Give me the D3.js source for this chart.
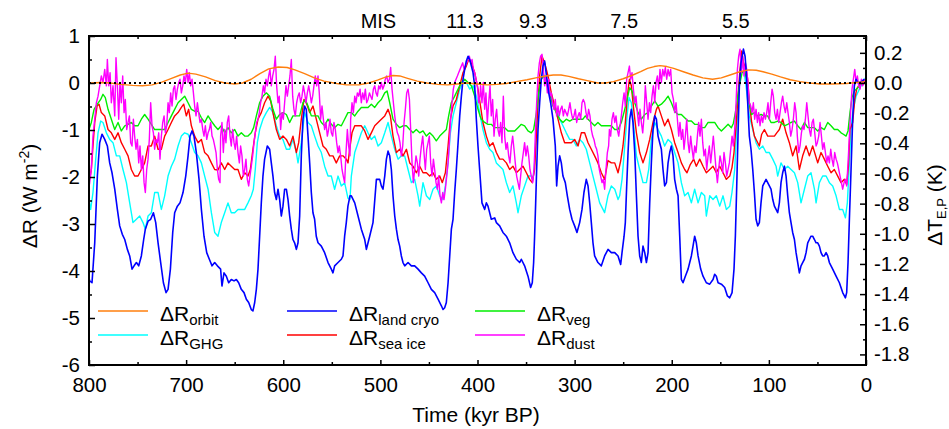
<!DOCTYPE html>
<html><head><meta charset="utf-8">
<script src="https://cdn.jsdelivr.net/npm/d3@7"></script>
<style>body{margin:0;background:#fff}svg{display:block}text{font-family:"Liberation Sans",Arial,sans-serif;fill:#000}</style>
</head><body><svg id="c" width="949" height="429"></svg>
<script>
// ---------------- data (time kyr BP, W m-2) ----------------
const xTicks=[800,700,600,500,400,300,200,100,0];
const yTicks=[1,0,-1,-2,-3,-4,-5,-6];
const rTicks=[0.2,0,-0.2,-0.4,-0.6,-0.8,-1.0,-1.2,-1.4,-1.6,-1.8];
const misLabels=["MIS","11.3","9.3","7.5","5.5"];
const misTimes=[502,413,343,249,134];
const seriesNames=["orbit","GHG","land cryo","sea ice","veg","dust"];
const sensitivity=0.3117; // K per W m-2 (right axis)

const orbit=[[800,0.0],[788,0.01],[778,0.0],[768,-0.03],[755,-0.05],[745,-0.06],[735,-0.04],[725,0.02],[715,0.1],[706,0.17],[698,0.21],[690,0.19],[680,0.13],[670,0.05],[660,0.0],[650,-0.02],[642,0.0],[633,0.08],[624,0.2],[615,0.3],[605,0.34],[596,0.33],[588,0.28],[578,0.2],[568,0.11],[558,0.04],[545,-0.01],[535,-0.04],[522,-0.04],[512,0.0],[503,0.06],[494,0.13],[487,0.16],[480,0.15],[472,0.1],[462,0.04],[452,0.0],[441,-0.03],[431,-0.04],[421,-0.02],[411,0.0],[400,-0.02],[390,-0.04],[380,-0.03],[370,-0.01],[360,0.03],[349,0.07],[340,0.11],[330,0.15],[322,0.17],[314,0.17],[306,0.14],[296,0.09],[287,0.05],[276,0.0],[268,0.0],[260,0.03],[250,0.09],[240,0.17],[232,0.24],[225,0.31],[218,0.35],[212,0.37],[205,0.35],[198,0.31],[188,0.24],[178,0.17],[168,0.11],[158,0.08],[149,0.11],[140,0.17],[130,0.24],[121,0.28],[113,0.27],[106,0.24],[97,0.19],[88,0.13],[78,0.07],[68,0.03],[58,0.0],[47,-0.02],[35,-0.02],[20,-0.01],[10,0.01],[0,0.03]];

const ghg=[[800.0,-2.48],[798.3,-2.69],[795.9,-2.33],[793.4,-1.70],[790.7,-1.06],[788.0,-0.81],[785.6,-0.84],[782.1,-1.06],[778.7,-1.20],[775.3,-1.27],[771.8,-1.55],[768.4,-1.55],[765.0,-1.84],[761.5,-2.12],[758.1,-2.55],[754.7,-2.97],[751.2,-2.90],[747.8,-2.83],[744.4,-2.97],[742.0,-3.11],[739.2,-2.83],[735.8,-2.76],[732.4,-2.33],[728.9,-2.33],[725.5,-2.69],[722.1,-2.40],[718.6,-1.98],[715.2,-1.77],[711.8,-1.62],[708.3,-1.34],[704.9,-1.13],[701.5,-1.06],[698.0,-1.09],[694.6,-1.27],[691.2,-1.48],[687.7,-1.55],[684.3,-1.70],[680.9,-1.98],[677.4,-2.26],[674.0,-2.76],[670.6,-3.18],[667.2,-3.26],[663.8,-2.97],[660.3,-2.76],[656.9,-2.55],[653.5,-2.76],[650.0,-2.76],[646.6,-2.69],[643.2,-2.69],[639.7,-2.69],[636.3,-2.55],[632.9,-2.40],[630.8,-2.26],[628.8,-1.84],[626.7,-1.27],[624.3,-0.99],[620.9,-0.77],[617.4,-0.63],[614.0,-0.52],[610.6,-0.63],[607.1,-0.91],[603.7,-1.13],[600.3,-1.20],[596.8,-1.41],[593.4,-1.41],[590.0,-1.20],[586.5,-1.48],[584.8,-1.70],[581.4,-1.27],[578.0,-0.63],[574.5,-0.84],[571.1,-0.91],[567.7,-1.13],[564.2,-1.34],[560.8,-1.48],[557.4,-1.77],[553.9,-1.98],[550.5,-1.98],[547.1,-2.26],[543.6,-1.98],[540.2,-2.19],[536.8,-2.12],[533.4,-2.45],[531.3,-2.48],[529.9,-1.98],[526.4,-1.48],[523.0,-1.27],[519.6,-1.06],[516.1,-0.91],[512.7,-1.06],[509.3,-1.20],[505.8,-1.13],[502.4,-1.34],[499.0,-1.27],[495.5,-1.06],[492.1,-0.84],[488.7,-1.13],[485.2,-1.41],[481.8,-1.62],[478.4,-1.55],[475.0,-1.55],[471.5,-1.84],[468.1,-2.12],[464.7,-2.05],[461.2,-2.40],[459.5,-2.62],[456.1,-2.12],[452.6,-2.40],[449.2,-2.48],[445.8,-2.26],[442.4,-2.19],[438.9,-2.40],[435.5,-2.48],[433.1,-2.19],[430.3,-1.70],[427.9,-1.06],[425.2,-0.70],[421.8,-0.42],[418.3,-0.13],[414.9,0.01],[411.5,0.01],[408.0,-0.13],[404.6,-0.06],[401.2,-0.28],[397.8,-0.63],[394.4,-0.99],[390.9,-1.27],[387.5,-1.41],[384.1,-1.48],[380.6,-1.70],[377.2,-1.77],[373.8,-1.84],[370.3,-2.12],[366.9,-2.33],[363.5,-2.19],[360.0,-2.55],[358.3,-2.76],[354.9,-2.40],[351.5,-2.19],[348.0,-1.98],[344.6,-1.98],[342.9,-2.05],[341.2,-1.70],[339.4,-0.99],[337.7,-0.28],[334.3,0.08],[332.6,0.22],[329.1,0.01],[325.7,-0.21],[322.3,-0.42],[318.8,-0.56],[315.4,-0.77],[312.0,-0.91],[308.6,-1.06],[305.1,-1.20],[301.7,-1.20],[298.3,-1.34],[294.8,-1.20],[291.4,-1.27],[288.0,-1.41],[284.5,-1.70],[281.1,-1.98],[277.7,-2.26],[274.2,-2.55],[270.8,-2.69],[269.1,-2.76],[265.7,-2.40],[262.2,-2.19],[258.7,-2.26],[255.3,-2.48],[253.6,-2.40],[251.2,-2.05],[248.4,-1.34],[246.0,-0.70],[244.0,-0.31],[241.6,-0.42],[239.2,-0.91],[236.4,-1.55],[233.0,-1.84],[229.6,-2.12],[226.1,-2.12],[223.7,-1.84],[221.0,-1.20],[217.5,-0.84],[214.1,-0.99],[210.7,-1.13],[207.3,-1.34],[203.8,-1.20],[200.4,-1.27],[197.0,-1.48],[193.5,-1.70],[190.1,-2.12],[186.7,-2.40],[183.2,-2.33],[179.8,-2.55],[176.4,-2.26],[172.9,-2.55],[169.5,-2.33],[166.1,-2.40],[164.4,-2.83],[160.9,-2.40],[157.5,-2.48],[154.1,-2.40],[150.6,-2.62],[147.2,-2.40],[143.8,-2.69],[140.3,-2.62],[138.0,-2.33],[135.2,-1.84],[133.5,-1.13],[131.8,-0.42],[129.7,0.15],[126.9,0.43],[123.5,-0.06],[120.1,-0.70],[116.6,-0.99],[113.2,-1.27],[109.8,-1.41],[106.3,-1.34],[102.9,-1.48],[99.5,-1.48],[96.0,-1.62],[92.6,-1.77],[90.9,-1.98],[87.5,-1.70],[84.0,-1.84],[80.6,-1.77],[77.2,-1.84],[73.7,-1.91],[70.3,-2.12],[66.9,-2.55],[63.4,-2.26],[60.0,-1.98],[56.6,-1.91],[53.1,-2.26],[51.4,-2.55],[48.0,-2.12],[44.6,-1.98],[41.1,-1.98],[37.7,-2.12],[34.3,-2.19],[30.8,-2.40],[27.4,-2.69],[24.0,-2.69],[21.2,-2.87],[19.2,-2.55],[17.1,-1.70],[15.4,-0.99],[13.7,-0.63],[10.2,-0.28],[6.8,-0.13],[3.4,0.01],[0.5,0.11]];

const landCryo=[[800,-4.15],[799.3,-4.21],[796.9,-4.25],[794.1,-3.40],[791.4,-1.98],[789.0,-1.27],[786.6,-1.09],[783.8,-1.20],[781.1,-1.34],[778.7,-1.70],[776.3,-1.91],[773.5,-2.26],[770.8,-2.69],[768.4,-3.04],[765.7,-3.22],[763.2,-3.33],[760.5,-3.54],[758.1,-3.68],[755.7,-3.96],[753.6,-3.89],[751.2,-3.82],[748.8,-3.89],[746.1,-3.68],[743.7,-3.33],[742.0,-3.11],[739.2,-2.94],[736.5,-2.90],[733.7,-2.76],[731.3,-2.97],[728.9,-3.40],[726.2,-3.82],[723.4,-4.25],[720.7,-4.46],[718.6,-4.39],[716.2,-3.96],[713.8,-3.18],[711.8,-2.76],[709.0,-2.62],[706.3,-2.55],[703.2,-2.33],[700.4,-1.98],[698.0,-1.55],[696.0,-1.13],[693.9,-1.02],[691.9,-1.13],[689.5,-1.48],[686.7,-2.05],[684.3,-2.69],[681.6,-3.26],[678.8,-3.61],[676.1,-3.75],[673.3,-3.89],[670.6,-3.82],[667.8,-3.89],[664.5,-3.96],[663.1,-4.32],[661.0,-4.04],[658.6,-4.11],[656.2,-4.25],[653.5,-4.18],[650.7,-4.21],[648.3,-4.18],[645.9,-4.25],[643.2,-4.39],[640.4,-4.46],[638.0,-4.60],[635.6,-4.67],[632.9,-4.82],[631.2,-4.85],[629.4,-4.67],[627.7,-4.39],[626.0,-3.96],[624.3,-3.26],[622.6,-2.55],[620.9,-1.98],[619.2,-1.62],[616.4,-1.34],[614.0,-1.41],[612.3,-1.70],[610.6,-1.98],[608.9,-2.33],[607.1,-2.48],[605.4,-2.26],[603.7,-2.48],[602.0,-2.83],[600.3,-2.62],[598.6,-2.26],[596.8,-2.26],[595.1,-2.48],[593.4,-2.83],[591.7,-3.11],[590.0,-3.33],[588.3,-3.40],[586.5,-3.54],[584.8,-3.40],[583.1,-2.83],[581.4,-1.55],[579.7,-0.77],[578.0,-0.49],[576.3,-0.56],[574.5,-1.13],[572.8,-1.70],[571.1,-2.33],[569.4,-2.76],[567.7,-2.90],[566.0,-3.26],[564.2,-3.40],[560.8,-3.47],[557.4,-3.61],[553.9,-3.82],[550.5,-3.96],[548.8,-4.04],[547.1,-3.89],[543.6,-3.82],[540.2,-3.75],[538.5,-3.68],[536.8,-3.26],[535.1,-2.97],[533.4,-2.62],[531.3,-2.40],[529.9,-2.40],[526.4,-2.55],[523.0,-2.83],[519.6,-3.11],[516.1,-3.33],[514.4,-3.54],[512.7,-3.40],[511.0,-3.26],[507.6,-2.97],[504.1,-2.05],[500.7,-2.05],[499.0,-2.19],[497.3,-2.26],[495.5,-1.98],[493.8,-1.62],[492.1,-1.45],[490.4,-1.55],[488.7,-1.84],[487.0,-2.40],[485.2,-2.83],[483.5,-3.11],[481.8,-3.33],[480.1,-3.47],[478.4,-3.68],[476.7,-3.82],[474.9,-3.89],[471.5,-3.82],[468.1,-3.89],[464.7,-3.89],[461.2,-3.96],[457.8,-4.04],[454.4,-4.11],[450.9,-4.25],[447.5,-4.39],[444.1,-4.46],[440.6,-4.60],[437.2,-4.74],[435.5,-4.82],[433.8,-4.78],[432.1,-4.67],[430.3,-4.25],[428.6,-3.68],[426.9,-3.11],[425.2,-2.90],[423.5,-2.33],[421.8,-1.84],[420.0,-1.27],[418.3,-0.70],[416.6,-0.28],[414.9,0.08],[413.2,0.29],[411.5,0.47],[409.7,0.57],[408.0,0.50],[406.3,0.36],[404.6,0.22],[402.9,-0.06],[401.2,-0.77],[399.5,-1.34],[397.8,-1.84],[395.4,-2.55],[392.6,-2.69],[390.9,-2.55],[389.2,-2.62],[385.8,-2.90],[382.3,-2.87],[380.6,-2.97],[377.2,-3.04],[373.8,-3.18],[370.3,-3.26],[366.9,-3.40],[363.5,-3.61],[360.0,-3.75],[356.6,-3.82],[354.9,-3.75],[351.5,-3.89],[348.0,-4.11],[345.3,-4.35],[343.6,-4.25],[342.2,-3.82],[341.2,-3.26],[340.1,-2.55],[339.1,-1.84],[337.7,-0.99],[336.0,-0.42],[334.3,0.08],[332.6,0.36],[330.9,0.47],[329.8,0.29],[328.5,0.08],[326.7,-0.21],[324.7,-0.42],[322.3,-0.77],[319.9,-1.34],[318.5,-2.19],[317.1,-1.77],[315.4,-1.55],[313.7,-1.70],[312.0,-1.98],[309.6,-2.12],[307.5,-2.40],[305.1,-2.69],[302.7,-2.90],[300.0,-3.04],[297.6,-3.18],[294.8,-2.97],[292.4,-2.69],[290.4,-2.33],[288.0,-2.05],[286.2,-2.19],[284.5,-2.55],[282.8,-2.97],[281.1,-3.40],[279.4,-3.68],[276.0,-3.82],[272.5,-3.89],[269.1,-3.68],[265.6,-3.54],[262.2,-3.61],[258.7,-3.61],[255.3,-3.68],[252.6,-3.86],[251.2,-3.61],[249.1,-3.26],[247.8,-2.97],[246.4,-2.19],[245.0,-1.48],[243.3,-0.77],[241.6,-0.56],[239.9,-0.84],[238.1,-1.48],[236.4,-2.40],[234.7,-3.26],[233.0,-3.68],[231.3,-3.82],[229.6,-3.47],[227.8,-3.61],[226.1,-3.82],[224.4,-3.61],[222.7,-2.55],[221.0,-1.70],[219.3,-0.99],[217.5,-0.70],[215.8,-0.77],[214.1,-1.13],[212.4,-1.27],[210.7,-1.41],[209.0,-1.84],[207.3,-2.19],[205.5,-2.12],[203.8,-1.70],[202.1,-1.48],[200.4,-1.34],[198.7,-1.55],[197.0,-2.05],[195.2,-2.26],[193.5,-2.40],[191.8,-3.26],[190.1,-4.18],[188.4,-4.25],[186.0,-4.11],[183.2,-3.96],[181.5,-3.82],[179.8,-3.68],[178.1,-3.47],[176.4,-3.26],[174.7,-3.40],[172.9,-3.68],[170.2,-3.96],[167.8,-4.11],[164.4,-4.25],[160.9,-4.28],[157.5,-4.18],[155.8,-4.07],[154.1,-4.11],[152.3,-4.25],[148.9,-4.28],[145.5,-4.35],[142.7,-4.53],[140.3,-4.57],[137.9,-4.46],[135.9,-3.96],[134.5,-3.26],[133.1,-2.19],[131.8,-1.13],[130.4,-0.06],[128.7,0.43],[126.2,0.72],[124.5,0.57],[123.5,0.29],[121.8,-0.42],[120.1,-1.13],[118.4,-1.41],[116.6,-1.84],[114.9,-2.33],[113.2,-2.90],[111.5,-3.04],[109.8,-2.97],[108.1,-2.55],[106.3,-2.19],[104.6,-2.12],[102.9,-2.05],[101.2,-2.12],[99.5,-2.19],[97.8,-2.26],[96.0,-2.48],[94.3,-2.62],[92.6,-2.69],[90.9,-2.76],[89.2,-2.55],[87.5,-2.12],[85.8,-1.91],[84.0,-1.77],[82.3,-1.98],[80.6,-2.40],[78.9,-2.76],[77.2,-2.97],[75.5,-3.18],[73.7,-3.33],[72.0,-3.61],[70.3,-3.82],[68.6,-4.04],[66.9,-3.89],[65.2,-3.82],[63.4,-3.75],[61.7,-3.61],[60.0,-3.40],[58.3,-3.33],[56.6,-3.26],[54.9,-3.26],[53.1,-3.33],[51.4,-3.40],[49.7,-3.40],[48.0,-3.47],[46.3,-3.61],[44.6,-3.68],[42.9,-3.68],[41.1,-3.61],[39.4,-3.68],[37.7,-3.82],[34.3,-3.96],[30.8,-4.11],[27.4,-4.25],[24.0,-4.46],[21.2,-4.57],[19.9,-4.46],[18.5,-3.82],[17.1,-2.90],[15.4,-1.84],[13.7,-0.77],[12.0,-0.06],[10.2,0.08],[8.5,0.01],[6.8,0.01],[4.1,0.04],[1.7,0.08]];

const seaIce=[[799.3,-2.05],[797.6,-1.84],[795.9,-1.34],[794.1,-0.84],[791.7,-0.49],[789.7,-0.45],[787.3,-0.63],[783.8,-0.70],[780.4,-0.99],[777.0,-1.06],[773.5,-1.20],[770.1,-1.06],[766.7,-1.27],[763.2,-1.41],[759.8,-1.55],[756.4,-1.84],[753.0,-1.98],[749.5,-1.98],[746.1,-1.84],[742.7,-1.70],[739.2,-1.34],[735.8,-1.34],[732.4,-1.13],[728.9,-1.41],[725.5,-1.41],[722.1,-1.13],[718.6,-0.99],[715.2,-0.84],[711.8,-0.70],[708.3,-0.63],[704.9,-0.52],[702.5,-0.45],[699.8,-0.70],[697.4,-0.56],[694.6,-0.91],[691.2,-1.13],[687.7,-1.27],[684.3,-1.20],[680.9,-1.48],[677.4,-1.55],[674.0,-1.70],[670.6,-1.84],[667.2,-1.85],[663.8,-1.70],[660.3,-1.84],[656.9,-1.70],[653.5,-1.77],[650.0,-1.84],[646.6,-1.84],[643.2,-2.05],[639.7,-1.91],[636.3,-1.98],[633.9,-1.84],[631.2,-1.41],[628.8,-1.06],[626.0,-0.77],[622.6,-0.63],[619.2,-0.42],[615.7,-0.28],[613.0,-0.38],[610.6,-0.63],[607.1,-0.99],[603.7,-1.20],[600.3,-1.13],[596.8,-1.20],[593.4,-1.34],[590.0,-1.13],[586.5,-1.48],[584.1,-1.27],[581.4,-0.77],[578.7,-0.35],[576.3,-0.42],[572.8,-0.63],[569.4,-0.49],[566.0,-0.77],[562.5,-1.06],[559.1,-1.34],[555.7,-1.41],[552.2,-1.55],[548.8,-1.55],[545.4,-1.70],[541.9,-1.55],[538.5,-1.55],[535.1,-1.62],[533.3,-1.70],[531.6,-1.41],[529.2,-1.06],[526.4,-0.91],[523.0,-0.91],[519.6,-0.91],[516.1,-1.02],[512.7,-1.20],[509.3,-1.06],[505.8,-0.91],[502.4,-0.84],[499.0,-0.77],[495.5,-0.70],[492.1,-0.56],[489.7,-0.70],[487.0,-1.13],[483.5,-1.48],[480.1,-1.41],[476.7,-1.55],[473.2,-1.41],[469.8,-1.70],[466.4,-1.77],[463.0,-1.91],[459.5,-1.77],[456.1,-1.91],[452.6,-1.91],[449.2,-1.98],[445.8,-1.91],[442.4,-2.05],[438.9,-1.98],[436.2,-2.12],[433.1,-1.91],[430.3,-1.34],[427.9,-0.77],[425.2,-0.49],[421.8,-0.35],[418.3,-0.06],[414.9,0.22],[411.5,0.36],[409.1,0.50],[406.3,0.43],[402.9,0.22],[399.5,-0.13],[397.4,-0.42],[394.4,-0.84],[390.9,-1.13],[387.5,-1.34],[384.1,-1.27],[380.6,-1.48],[377.2,-1.62],[373.8,-1.62],[370.3,-1.70],[366.9,-1.84],[363.5,-1.77],[360.0,-1.91],[356.6,-1.84],[353.2,-1.77],[349.7,-1.91],[346.3,-2.05],[343.6,-2.12],[341.2,-1.84],[339.4,-1.13],[337.7,-0.42],[336.0,0.15],[333.6,0.57],[330.9,0.43],[327.4,0.15],[324.0,-0.21],[320.6,-0.49],[317.1,-0.77],[313.7,-1.06],[310.3,-1.27],[306.8,-1.27],[303.4,-1.27],[300.0,-1.20],[296.5,-1.34],[293.1,-1.06],[289.7,-1.06],[286.2,-1.27],[282.8,-1.41],[279.4,-1.55],[276.0,-1.70],[272.5,-1.91],[269.1,-2.05],[265.7,-1.65],[262.2,-1.70],[258.7,-1.70],[255.3,-1.91],[252.6,-1.66],[250.2,-1.34],[247.8,-0.84],[245.7,-0.28],[243.6,0.08],[241.6,-0.06],[239.2,-0.56],[236.4,-1.06],[233.0,-1.48],[229.6,-1.70],[226.1,-1.48],[222.7,-1.20],[219.3,-0.84],[215.8,-0.56],[214.1,-0.49],[210.7,-0.70],[207.3,-0.91],[203.8,-0.77],[200.4,-0.99],[197.0,-1.27],[193.5,-1.48],[190.1,-1.70],[186.7,-1.84],[184.3,-1.91],[180.8,-1.73],[177.4,-1.62],[174.7,-1.77],[171.2,-1.62],[167.8,-1.77],[164.4,-1.91],[160.9,-1.84],[157.5,-1.77],[154.1,-1.91],[150.6,-1.77],[147.2,-1.91],[143.8,-2.05],[140.3,-1.98],[138.0,-1.80],[135.9,-1.48],[133.5,-0.84],[131.8,-0.28],[129.7,0.29],[128.0,0.68],[126.2,0.43],[123.5,0.29],[121.8,0.08],[120.1,-0.42],[117.7,-0.84],[114.9,-1.13],[112.5,-1.23],[109.8,-1.34],[107.4,-1.09],[104.6,-0.99],[101.2,-1.13],[97.8,-1.13],[94.3,-1.13],[91.9,-1.06],[89.2,-0.99],[85.8,-0.77],[82.3,-1.06],[78.9,-1.27],[75.5,-1.55],[72.0,-1.34],[68.6,-1.84],[65.2,-1.55],[61.7,-1.34],[58.3,-1.55],[54.9,-1.34],[49.7,-1.70],[46.3,-1.48],[42.9,-1.62],[39.4,-1.77],[36.0,-1.91],[32.6,-1.84],[29.1,-1.98],[25.7,-2.12],[22.3,-2.05],[19.9,-2.16],[18.1,-1.77],[16.5,-0.99],[13.7,-0.84],[11.6,-0.35],[9.6,-0.13],[6.8,-0.03],[3.4,0.01],[0.5,0.08]];

const veg=[[800.0,-0.99],[797.6,-0.84],[794.8,-0.56],[791.4,-0.45],[788.0,-0.35],[785.6,-0.24],[783.2,-0.31],[780.4,-0.56],[777.0,-0.77],[773.5,-0.99],[770.1,-0.84],[766.7,-1.02],[763.2,-0.91],[759.8,-0.88],[756.4,-0.84],[753.0,-0.91],[749.5,-0.91],[746.1,-0.77],[742.7,-0.67],[739.2,-0.77],[735.8,-0.88],[732.4,-0.99],[728.9,-0.99],[725.5,-0.99],[722.1,-0.99],[718.6,-0.84],[715.2,-0.70],[711.8,-0.56],[708.3,-0.42],[704.9,-0.35],[701.5,-0.28],[698.0,-0.42],[694.6,-0.56],[691.2,-0.60],[687.7,-0.60],[684.3,-0.74],[680.9,-0.84],[677.4,-0.70],[674.0,-0.81],[670.6,-0.91],[667.2,-0.99],[663.8,-0.91],[660.3,-1.06],[656.9,-0.95],[653.5,-1.06],[650.0,-0.99],[646.6,-1.13],[643.2,-1.06],[639.7,-1.13],[636.3,-1.13],[632.9,-1.06],[630.5,-0.95],[627.7,-0.70],[624.3,-0.42],[620.9,-0.28],[617.4,-0.21],[614.0,-0.28],[610.6,-0.56],[607.1,-0.77],[603.7,-0.67],[600.3,-0.63],[596.8,-0.67],[593.4,-0.84],[590.0,-0.70],[586.5,-0.70],[583.1,-0.70],[579.7,-0.42],[577.3,-0.35],[574.5,-0.49],[571.1,-0.70],[567.7,-0.70],[564.2,-0.70],[560.8,-0.84],[557.4,-0.91],[553.9,-0.77],[550.5,-0.88],[547.1,-0.95],[543.6,-0.88],[540.2,-0.91],[536.8,-0.77],[533.4,-0.63],[529.9,-0.63],[526.4,-0.70],[523.0,-0.60],[519.6,-0.52],[516.1,-0.52],[512.7,-0.52],[509.3,-0.45],[505.8,-0.52],[502.4,-0.42],[499.0,-0.35],[495.5,-0.21],[493.1,-0.17],[490.4,-0.42],[487.0,-0.77],[483.5,-0.88],[480.1,-0.95],[476.7,-0.91],[473.2,-0.91],[469.8,-0.99],[466.4,-1.06],[463.0,-0.99],[459.5,-1.06],[456.1,-1.02],[452.6,-1.13],[449.2,-1.06],[445.8,-1.13],[442.4,-1.23],[438.9,-1.13],[435.5,-1.06],[432.1,-0.99],[429.7,-0.70],[427.0,-0.42],[423.5,-0.28],[420.0,-0.13],[416.6,0.01],[413.2,0.08],[409.7,0.01],[406.3,-0.06],[402.9,-0.28],[399.5,-0.56],[397.4,-0.70],[396.1,-0.77],[392.6,-0.84],[389.2,-0.88],[385.8,-0.88],[382.3,-0.95],[378.9,-0.95],[375.5,-0.95],[372.0,-0.95],[368.6,-1.02],[365.2,-1.02],[361.7,-1.02],[358.3,-0.95],[354.9,-0.88],[351.5,-0.91],[348.0,-1.02],[344.6,-1.06],[342.2,-0.99],[339.4,-0.63],[337.0,-0.21],[334.3,0.08],[331.9,0.15],[329.1,0.08],[325.7,-0.21],[322.3,-0.49],[318.8,-0.63],[315.4,-0.77],[312.0,-0.84],[308.6,-0.77],[305.1,-0.81],[301.7,-0.77],[298.3,-0.77],[294.8,-0.77],[291.4,-0.77],[289.0,-0.70],[286.2,-0.77],[282.8,-0.84],[279.4,-0.91],[276.0,-0.84],[272.5,-0.91],[269.1,-0.91],[265.7,-0.91],[262.2,-0.91],[258.7,-0.99],[255.3,-0.99],[251.9,-0.84],[248.4,-0.56],[246.0,-0.35],[243.3,-0.10],[240.9,-0.17],[238.1,-0.42],[234.7,-0.63],[231.3,-0.77],[227.8,-0.67],[224.4,-0.63],[221.0,-0.49],[217.5,-0.38],[214.1,-0.49],[210.7,-0.45],[207.3,-0.38],[203.8,-0.28],[200.4,-0.42],[197.0,-0.60],[193.5,-0.67],[190.1,-0.67],[186.7,-0.74],[183.2,-0.81],[179.8,-0.81],[176.4,-0.88],[172.9,-0.88],[169.5,-0.95],[166.1,-0.95],[162.6,-0.84],[159.2,-0.84],[155.8,-0.84],[152.3,-0.95],[148.9,-1.02],[145.5,-0.95],[142.0,-0.88],[138.6,-0.95],[136.6,-0.86],[134.5,-0.63],[132.4,-0.35],[130.4,-0.06],[127.6,0.22],[125.2,0.26],[122.8,0.08],[120.1,-0.42],[117.7,-0.67],[114.9,-0.63],[111.5,-0.70],[108.1,-0.67],[104.6,-0.70],[101.2,-0.70],[97.8,-0.84],[94.3,-0.84],[90.9,-0.81],[87.5,-0.84],[84.0,-0.91],[80.6,-0.88],[77.2,-0.84],[73.7,-0.81],[70.3,-0.91],[66.9,-0.99],[63.4,-0.84],[60.0,-0.95],[56.6,-0.95],[53.1,-0.95],[49.7,-1.02],[46.3,-0.95],[42.9,-0.99],[39.4,-0.84],[36.0,-0.91],[32.6,-0.99],[29.1,-0.99],[25.7,-1.06],[23.3,-1.09],[20.5,-1.13],[18.5,-1.02],[16.5,-0.63],[14.4,-0.31],[12.0,-0.17],[8.5,-0.10],[5.1,-0.03],[0.5,0.01]];

const dust=[[800,0.0],[799.5,-2.15],[797.6,-1.84],[795.9,-1.13],[794.1,-0.77],[792.4,-0.42],[790.7,-0.28],[789.0,-0.06],[787.3,0.15],[785.6,0.01],[783.8,0.29],[782.1,-0.06],[781.1,0.50],[779.7,-0.06],[778.3,0.22],[777.0,-0.42],[775.3,-0.06],[773.5,-0.70],[772.2,0.54],[770.8,-0.06],[769.4,-0.77],[768.1,0.01],[766.7,-0.42],[765.3,0.15],[763.9,-0.63],[762.6,-0.35],[761.2,-0.99],[759.8,-0.84],[758.4,-0.70],[757.1,-1.27],[755.7,-1.34],[754.3,-0.77],[753.0,-1.13],[751.6,-1.41],[750.2,-1.20],[748.8,-1.70],[747.5,-1.34],[746.1,-1.84],[744.7,-1.55],[743.3,-2.12],[742.0,-2.33],[740.6,-1.84],[739.2,-1.62],[737.9,-1.20],[736.5,-0.42],[735.1,-0.91],[733.7,-1.06],[732.4,-1.41],[731.0,-1.20],[729.6,-1.27],[728.2,-1.06],[726.9,-1.62],[725.5,-1.13],[724.1,-0.84],[722.7,-0.70],[721.4,-1.06],[720.0,-0.91],[718.6,-0.42],[717.3,-0.63],[715.9,-0.21],[714.5,-0.49],[713.1,-0.13],[711.8,-0.06],[710.4,-0.35],[709.0,-0.13],[707.6,0.01],[706.3,0.08],[704.9,-0.21],[703.5,-0.06],[702.2,0.15],[700.8,0.01],[699.4,0.29],[698.0,0.01],[696.7,0.22],[695.3,-0.06],[693.9,0.08],[692.5,-0.21],[691.2,-0.49],[689.8,-0.70],[688.4,-0.42],[687.1,-0.63],[685.7,-0.84],[684.3,-0.77],[682.9,-0.99],[681.6,-1.13],[680.2,-0.91],[678.8,-1.20],[677.4,-1.06],[676.1,-0.99],[674.7,-0.84],[673.3,-1.13],[672.0,-1.20],[670.6,-1.34],[669.2,-1.48],[667.8,-1.84],[666.5,-2.05],[665.1,-2.12],[664.5,-1.13],[663.1,-0.84],[661.7,-1.48],[660.3,-0.99],[659.0,-1.27],[657.6,-0.84],[656.2,-0.70],[654.8,-1.13],[653.5,-1.34],[652.1,-0.99],[650.7,-1.27],[649.4,-1.41],[648.0,-1.13],[646.6,-1.48],[645.2,-1.70],[643.9,-1.34],[642.5,-1.55],[641.1,-1.98],[639.7,-1.84],[638.4,-1.62],[637.0,-2.05],[635.6,-2.19],[634.3,-1.98],[632.9,-1.77],[631.5,-1.55],[630.1,-1.27],[628.8,-1.06],[627.4,-0.84],[626.0,-0.77],[624.6,-0.63],[623.3,-0.42],[621.9,-0.28],[620.5,-0.06],[619.2,-0.21],[617.8,0.08],[616.4,-0.06],[615.0,0.15],[613.7,0.29],[612.3,-0.06],[610.9,0.15],[609.5,0.29],[608.2,0.57],[606.8,-0.06],[605.4,-0.42],[604.1,-0.28],[602.7,-0.99],[601.3,-0.63],[599.9,-0.77],[598.6,-0.42],[597.2,-0.06],[595.8,-0.28],[594.4,-0.06],[593.1,0.15],[591.7,0.50],[590.3,-0.28],[589.0,-0.56],[587.6,-0.70],[586.2,-0.42],[584.8,-0.28],[583.5,-0.21],[582.1,-0.42],[580.7,-0.28],[579.3,-0.06],[578.0,-0.21],[576.6,-0.42],[575.2,-0.21],[573.8,-0.06],[572.5,-0.21],[571.1,-0.42],[569.7,-0.28],[568.4,-0.06],[567.0,0.15],[565.6,-0.06],[564.2,0.15],[562.9,-0.21],[561.5,-0.77],[560.1,-0.49],[558.7,-0.77],[557.4,-0.99],[556.0,-0.84],[554.6,-1.13],[553.3,-0.99],[551.9,-0.77],[550.5,-1.06],[549.1,-1.13],[547.8,-0.84],[546.4,-0.99],[545.0,-1.27],[543.6,-1.48],[542.3,-1.34],[540.9,-1.55],[539.5,-1.84],[538.2,-1.98],[536.8,-2.12],[535.4,-1.48],[534.0,-0.99],[532.7,-1.34],[531.3,-1.55],[530.6,-0.77],[529.2,-0.42],[527.8,-0.63],[526.4,-0.28],[525.1,-0.42],[523.7,-0.21],[522.3,-0.28],[520.9,-0.13],[519.6,-0.42],[518.2,-0.21],[516.8,-0.35],[515.5,-0.13],[514.1,-0.42],[512.7,-0.35],[511.3,-0.21],[510.0,-0.28],[508.6,-0.35],[507.2,-0.13],[505.8,-0.06],[504.5,-0.21],[503.1,-0.28],[501.7,-0.06],[500.4,-0.13],[499.0,0.01],[497.6,-0.13],[496.2,-0.06],[494.9,0.08],[493.5,0.15],[492.1,0.01],[490.7,0.08],[489.4,0.33],[488.0,-0.13],[486.6,-0.42],[485.2,-0.70],[483.9,-0.91],[482.5,-1.06],[481.1,-1.13],[479.8,-1.27],[478.4,-1.55],[477.0,-1.34],[475.6,-0.84],[474.3,-0.56],[472.9,-0.21],[471.5,-0.13],[470.1,-0.35],[468.8,-0.99],[467.4,-1.70],[466.0,-2.12],[464.7,-1.84],[463.3,-1.55],[461.9,-1.70],[460.5,-1.98],[459.2,-1.62],[457.8,-1.34],[456.4,-1.13],[455.1,-1.48],[453.7,-1.84],[452.3,-1.41],[450.9,-1.27],[449.6,-1.13],[448.2,-1.70],[446.8,-1.98],[445.4,-1.62],[444.1,-1.84],[442.7,-2.12],[441.3,-2.26],[440.0,-1.98],[438.6,-2.40],[437.2,-2.55],[435.8,-2.33],[434.5,-2.48],[433.1,-2.26],[431.7,-1.98],[430.3,-1.70],[429.0,-1.27],[427.6,-0.77],[426.2,-0.42],[424.9,-0.13],[423.5,0.01],[422.1,0.08],[420.7,0.15],[419.4,0.22],[418.0,0.29],[416.6,0.36],[415.2,0.43],[413.9,0.29],[412.5,0.36],[411.1,0.43],[409.7,0.50],[408.4,0.57],[407.0,0.43],[405.6,0.50],[404.3,0.29],[402.9,0.22],[401.5,0.08],[400.1,-0.06],[398.8,-0.42],[397.4,-0.28],[396.8,-0.06],[395.4,-0.42],[394.0,0.01],[392.6,-0.56],[391.3,-0.21],[389.9,-0.84],[388.5,-0.42],[387.1,-0.06],[385.8,-0.70],[384.4,-0.35],[383.0,-1.13],[381.7,-0.77],[380.3,-0.56],[378.9,-0.99],[377.5,-1.13],[376.2,-0.84],[374.8,-1.27],[373.4,-0.28],[372.0,-1.13],[370.7,-1.41],[369.3,-1.27],[367.9,-1.55],[366.6,-1.70],[365.2,-1.34],[363.8,-1.13],[362.4,-1.41],[361.1,-1.70],[359.7,-1.98],[358.3,-2.12],[356.9,-2.26],[355.6,-1.98],[354.2,-1.70],[352.8,-1.48],[351.5,-1.27],[350.1,-1.55],[348.7,-1.34],[347.3,-1.55],[346.0,-1.84],[344.6,-1.98],[343.2,-2.12],[341.8,-1.84],[340.5,-1.13],[339.1,-0.42],[337.7,0.15],[336.3,0.43],[335.0,0.57],[333.6,0.61],[332.2,0.29],[330.9,-0.06],[329.5,0.15],[328.1,-0.21],[326.7,0.08],[325.4,-0.28],[324.0,-0.21],[322.6,-0.42],[321.3,-0.56],[319.9,-0.35],[318.5,-0.70],[317.1,-0.49],[315.8,-0.70],[314.4,-0.56],[313.0,-0.49],[311.6,-0.70],[310.3,-0.56],[308.9,-0.63],[307.5,-0.70],[306.1,-0.56],[304.8,-0.42],[303.4,-0.63],[302.0,-0.77],[300.7,-0.70],[299.3,-0.56],[297.9,-0.84],[296.5,-0.70],[295.2,-0.63],[293.8,-0.77],[292.4,-0.42],[291.1,-0.35],[289.7,-0.42],[288.3,-0.63],[286.9,-0.77],[285.6,-0.56],[284.2,-0.70],[282.8,-0.99],[281.4,-1.13],[280.1,-1.20],[278.7,-1.34],[277.3,-1.41],[276.0,-1.55],[274.6,-1.84],[273.2,-1.98],[271.8,-2.12],[270.5,-2.05],[269.1,-2.26],[267.7,-1.84],[266.3,-1.48],[265.0,-1.34],[264.2,-0.99],[262.9,-1.13],[261.5,-0.77],[260.1,-0.63],[258.7,-0.84],[257.4,-0.70],[256.0,-0.99],[254.6,-1.13],[253.2,-0.91],[251.9,-0.70],[250.5,-0.42],[249.1,-0.21],[247.8,-0.49],[246.4,0.08],[245.0,0.22],[243.6,0.36],[242.3,0.08],[240.9,0.22],[239.5,-0.13],[238.1,-0.42],[236.8,-0.28],[235.4,-0.63],[234.0,-0.91],[232.7,-0.56],[231.3,-0.84],[229.9,-1.06],[228.5,-0.70],[227.2,-0.06],[225.8,-0.42],[224.4,-0.77],[223.0,-0.42],[221.7,-0.63],[220.3,-0.28],[218.9,-0.06],[217.5,-0.42],[216.2,0.01],[214.8,0.15],[213.4,-0.13],[212.1,0.29],[210.7,0.01],[209.3,0.29],[207.9,0.15],[206.6,0.33],[205.2,0.08],[203.8,0.29],[202.5,0.15],[201.1,0.29],[199.7,-0.21],[198.3,-0.35],[197.0,-0.63],[195.6,-0.42],[194.2,-0.77],[192.8,-1.13],[191.5,-0.84],[190.1,-1.20],[188.7,-0.99],[187.4,-1.41],[186.0,-1.13],[184.6,-0.77],[183.2,-1.27],[181.9,-1.48],[180.5,-1.13],[179.1,-1.41],[177.7,-1.62],[176.4,-1.34],[175.0,-1.48],[173.6,-1.13],[172.3,-0.84],[170.9,-1.13],[169.5,-0.77],[168.1,-1.27],[166.8,-1.55],[165.4,-1.41],[164.0,-1.84],[162.6,-1.55],[161.3,-1.34],[159.9,-1.70],[158.5,-1.41],[157.2,-1.13],[155.8,-1.48],[154.4,-1.84],[153.0,-2.12],[151.7,-1.84],[150.3,-1.55],[148.9,-1.70],[147.5,-1.91],[146.2,-1.48],[144.8,-1.70],[143.4,-1.98],[142.0,-1.84],[140.7,-1.70],[139.3,-1.41],[137.9,-1.13],[136.6,-1.34],[135.2,-0.99],[133.8,-0.42],[132.4,0.29],[131.1,0.57],[129.7,0.72],[128.3,0.22],[126.9,0.57],[125.6,0.15],[124.2,0.43],[122.8,0.29],[121.4,-0.06],[120.1,-0.42],[118.7,-0.49],[117.3,-0.63],[116.0,-0.42],[114.6,-0.77],[113.2,-0.56],[111.8,-0.84],[110.5,-0.63],[109.1,-0.91],[107.7,-0.70],[106.3,-0.84],[105.0,-0.63],[103.6,-0.77],[102.2,-0.63],[100.9,-0.42],[99.5,-0.77],[98.1,-0.42],[96.7,-0.13],[95.4,-0.28],[94.0,-0.63],[92.6,-0.77],[91.2,-0.56],[89.9,-0.84],[88.5,-0.63],[87.1,-0.42],[85.8,-0.28],[84.4,-0.49],[83.0,-0.63],[81.6,-0.42],[80.3,-0.63],[78.9,-0.84],[77.5,-1.13],[76.1,-0.99],[74.8,-0.77],[73.4,-0.42],[72.0,-0.63],[70.7,-1.13],[69.3,-1.48],[67.9,-1.34],[66.5,-1.06],[65.2,-0.91],[63.8,-0.99],[62.4,-0.77],[61.0,-0.42],[59.7,-0.70],[58.3,-0.99],[56.9,-1.13],[55.5,-0.84],[54.2,-0.77],[52.8,-1.06],[51.4,-1.34],[50.1,-1.27],[48.7,-1.13],[47.3,-0.84],[45.9,-1.13],[44.6,-1.41],[43.2,-1.27],[41.8,-1.48],[40.4,-1.70],[39.1,-1.55],[37.7,-1.70],[36.3,-1.41],[35.0,-1.62],[33.6,-1.77],[32.2,-1.48],[30.8,-1.62],[29.5,-1.70],[28.1,-1.84],[26.7,-1.98],[25.3,-2.12],[24.0,-2.26],[22.6,-2.12],[21.2,-2.05],[19.9,-2.19],[18.5,-1.70],[17.1,-1.13],[15.7,-0.56],[14.4,-0.13],[13.0,0.08],[11.6,0.29],[10.2,0.01],[8.9,0.15],[7.5,-0.06],[6.1,-0.13],[4.8,0.08],[3.4,-0.06],[2.0,0.01],[0.6,0.08]];

// ---------------- drawing ----------------
const svg=d3.select("#c");
const L=89,R=866,T=36,B=365;
const x=d3.scaleLinear().domain([800,0]).range([L,R]);
const y=d3.scaleLinear().domain([-6,1]).range([B,T]);
const yR=d3.scaleLinear().domain([-6*sensitivity,1*sensitivity]).range([B,T]);

svg.append("defs").append("clipPath").attr("id","pc").append("rect")
  .attr("x",L).attr("y",T).attr("width",R-L).attr("height",B-T);

const line=d3.line().x(d=>x(d[0])).y(d=>y(d[1]));
const colors={orbit:"#ff7f0e",GHG:"#00ffff","land cryo":"#0000ff","sea ice":"#ff0000",veg:"#00ee00",dust:"#ff00ff"};
const dataBy={orbit:orbit,GHG:ghg,"land cryo":landCryo,"sea ice":seaIce,veg:veg,dust:dust};
const drawOrder=["GHG","sea ice","veg","dust","land cryo","orbit"];
const g=svg.append("g").attr("clip-path","url(#pc)");
drawOrder.forEach(k=>{
  g.append("path").datum(dataBy[k]).attr("d",line).attr("fill","none")
   .attr("stroke",colors[k]).attr("stroke-width",k==="land cryo"?1.6:1.4)
   .attr("stroke-linejoin","round");
});
// dotted zero line
g.append("line").attr("x1",L).attr("x2",R).attr("y1",y(0)).attr("y2",y(0))
 .attr("stroke","#000").attr("stroke-width",2).attr("stroke-dasharray","2,3");

// axes
const fs="20.5px";
function styleAxis(sel){sel.select(".domain").remove();sel.selectAll("line").attr("stroke","#000").attr("stroke-width",1.5);sel.selectAll("text").style("font-size",fs).attr("fill","#000");}
svg.append("g").attr("transform",`translate(${L},0)`)
  .call(d3.axisLeft(y).tickValues(yTicks).tickSize(-6).tickPadding(9).tickFormat(d=>String(d))).call(styleAxis);
svg.append("g").attr("transform",`translate(${L},0)`)
  .call(d3.axisLeft(y).tickValues(d3.range(-55,10,10).map(v=>v/10)).tickSize(-3).tickFormat("")).call(styleAxis);
svg.append("g").attr("transform",`translate(0,${B})`)
  .call(d3.axisBottom(x).tickValues(xTicks).tickSize(-5).tickPadding(12)).call(styleAxis);
svg.append("g").attr("transform",`translate(0,${B})`)
  .call(d3.axisBottom(x).tickValues(d3.range(750,0,-100)).tickSize(-3).tickFormat("")).call(styleAxis);
svg.append("g").attr("transform",`translate(0,${T})`)
  .call(d3.axisTop(x).tickValues(xTicks).tickSize(-5).tickFormat("")).call(styleAxis);
svg.append("g").attr("transform",`translate(0,${T})`)
  .call(d3.axisTop(x).tickValues(d3.range(750,0,-100)).tickSize(-3).tickFormat("")).call(styleAxis);
svg.append("g").attr("transform",`translate(${R},0)`)
  .call(d3.axisRight(yR).tickValues(rTicks).tickSize(-6).tickPadding(8).tickFormat(d=>d.toFixed(1))).call(styleAxis);
svg.append("g").attr("transform",`translate(${R},0)`)
  .call(d3.axisRight(yR).tickValues(d3.range(3,-19,-2).map(v=>v/10)).tickSize(-3).tickFormat("")).call(styleAxis);

// frame
svg.append("rect").attr("x",L).attr("y",T).attr("width",R-L).attr("height",B-T)
  .attr("fill","none").attr("stroke","#000").attr("stroke-width",2);

// MIS labels
svg.selectAll("text.mis").data(misLabels).enter().append("text").attr("class","mis")
  .attr("x",(d,i)=>x(misTimes[i])).attr("y",28).attr("text-anchor","middle")
  .style("font-size","20px").text(d=>d);

// axis titles
svg.append("text").attr("x",476).attr("y",422).attr("text-anchor","middle")
  .style("font-size","21px").text("Time (kyr BP)");
const lt=svg.append("text").attr("transform","translate(37,196) rotate(-90)")
  .attr("text-anchor","middle").style("font-size","21px");
lt.append("tspan").text("\u0394R (W m");
lt.append("tspan").attr("dy",-8).style("font-size","14px").text("-2");
lt.append("tspan").attr("dy",8).text(")");
const rt=svg.append("text").attr("transform","translate(942,205) rotate(-90)")
  .attr("text-anchor","middle").style("font-size","21px");
rt.append("tspan").text("\u0394T");
rt.append("tspan").attr("dy",4).style("font-size","13px").text("E,P");
rt.append("tspan").attr("dy",-4).text(" (K)");

// legend
const legX=[98,287,475], legY=[311,335];
const legOrder=["orbit","GHG","land cryo","sea ice","veg","dust"];
legOrder.forEach((k,i)=>{
  const cx=legX[Math.floor(i/2)], cy=legY[i%2];
  svg.append("line").attr("x1",cx).attr("x2",cx+50).attr("y1",cy).attr("y2",cy)
    .attr("stroke",colors[k]).attr("stroke-width",1.5);
  const t=svg.append("text").attr("x",cx+62).attr("y",cy+10).style("font-size","21px");
  t.append("tspan").text("\u0394R");
  t.append("tspan").attr("dy",4).style("font-size","15px").text(k);
});
</script></body></html>
